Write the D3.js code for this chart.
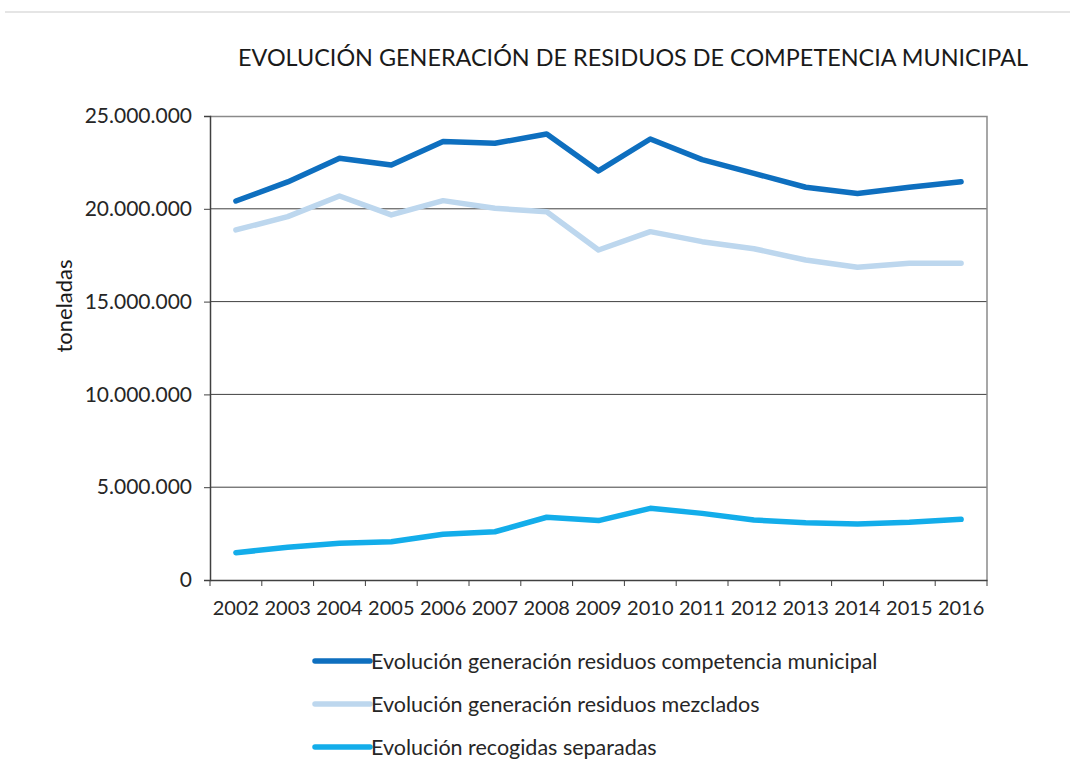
<!DOCTYPE html>
<html>
<head>
<meta charset="utf-8">
<script src="https://cdn.jsdelivr.net/npm/d3@7"></script>
<style>
  body { margin: 0; background: #fff; }
  svg text { font-family: Lato, "Open Sans", sans-serif; fill: #262626; }
</style>
</head>
<body>
<div id="chart"></div>
<script>
// Years on the x axis
const years = ["2002","2003","2004","2005","2006","2007","2008","2009","2010","2011","2012","2013","2014","2015","2016"];

// Series values (toneladas)
const municipal = [20420000, 21450000, 22720000, 22360000, 23620000, 23530000, 24030000, 22040000, 23760000, 22650000, 21910000, 21160000, 20830000, 21160000, 21460000];
const mezclados = [18860000, 19580000, 20690000, 19670000, 20440000, 20030000, 19840000, 17780000, 18770000, 18230000, 17850000, 17240000, 16850000, 17060000, 17060000];
const separadas = [1470000, 1760000, 1980000, 2060000, 2460000, 2600000, 3380000, 3200000, 3860000, 3590000, 3230000, 3090000, 3020000, 3110000, 3270000];

const seriesNames = [
    "Evolución generación residuos competencia municipal",
    "Evolución generación residuos mezclados",
    "Evolución recogidas separadas"
];
const seriesColors = ["#0e6fbf", "#bdd7ee", "#13adea"];
const yTicks = [0, 5000000, 10000000, 15000000, 20000000, 25000000];

const width = 1070, height = 764;
const margin = { top: 116, right: 83, bottom: 184, left: 210 };
const plotW = width - margin.left - margin.right;
const plotH = height - margin.top - margin.bottom;

const svg = d3.select("#chart").append("svg")
    .attr("width", width)
    .attr("height", height);

// thin rule at the top of the page
svg.append("line")
    .attr("x1", 5).attr("x2", width).attr("y1", 12).attr("y2", 12)
    .attr("stroke", "#dcdcdc").attr("stroke-width", 1.5);

// Title
svg.append("text")
    .attr("x", 238).attr("y", 66)
    .attr("textLength", 790)
    .attr("lengthAdjust", "spacingAndGlyphs")
    .style("font-size", "23px")
    .style("fill", "#1a1a1a")
    .text("EVOLUCIÓN GENERACIÓN DE RESIDUOS DE COMPETENCIA MUNICIPAL");

const g = svg.append("g").attr("transform", `translate(${margin.left},${margin.top})`);

// Scales
const x = d3.scaleBand().domain(years).range([0, plotW]);
const y = d3.scaleLinear().domain([0, 25000000]).range([plotH, 0]);

const fmt = v => v === 0 ? "0" : d3.format(",")(v).replace(/,/g, ".");

// Gridlines
g.selectAll(".grid")
    .data(yTicks.filter(d => d > 0 && d < 25000000))
    .enter().append("line")
    .attr("x1", 0).attr("x2", plotW)
    .attr("y1", d => y(d)).attr("y2", d => y(d))
    .attr("stroke", "#404040").attr("stroke-width", 1);

// Plot border top/right
g.append("path")
    .attr("d", `M0,0.5H${plotW}V${plotH}`)
    .attr("fill", "none").attr("stroke", "#8a8a8a").attr("stroke-width", 1.5);

// Y axis
const yAxis = g.append("g")
    .call(d3.axisLeft(y).tickValues(yTicks).tickFormat(fmt).tickSize(6).tickPadding(12));
yAxis.select(".domain").attr("stroke", "#404040").attr("stroke-width", 1.5);
yAxis.selectAll(".tick line").attr("stroke", "#404040");
yAxis.selectAll("text").style("font-size", "21px").style("fill", "#262626")
    .attr("font-family", null);

// X axis (ticks at category boundaries)
const xAxis = g.append("g").attr("transform", `translate(0,${plotH})`)
    .call(d3.axisBottom(x).tickSize(0).tickPadding(21));
xAxis.select(".domain").attr("stroke", "#404040").attr("stroke-width", 1.5);
xAxis.selectAll("text").style("font-size", "20px").style("fill", "#262626")
    .attr("font-family", null);
xAxis.selectAll(".bound")
    .data(d3.range(years.length + 1))
    .enter().append("line")
    .attr("x1", i => i * x.step()).attr("x2", i => i * x.step())
    .attr("y1", 0).attr("y2", 6)
    .attr("stroke", "#404040");

// Y axis title
svg.append("text")
    .attr("transform", "translate(72,306) rotate(-90)")
    .attr("text-anchor", "middle")
    .style("font-size", "22px")
    .style("fill", "#1a1a1a")
    .text("toneladas");

// Lines
const line = d3.line()
    .x((d, i) => x(years[i]) + x.bandwidth() / 2)
    .y(d => y(d));

const allSeries = [municipal, mezclados, separadas];
g.selectAll(".series")
    .data(allSeries)
    .enter().append("path")
    .attr("fill", "none")
    .attr("stroke", (d, i) => seriesColors[i])
    .attr("stroke-width", 5.5)
    .attr("stroke-linejoin", "round")
    .attr("stroke-linecap", "round")
    .attr("d", line);

// Legend
const legend = svg.append("g");
const items = legend.selectAll("g")
    .data(seriesNames)
    .enter().append("g")
    .attr("transform", (d, i) => `translate(315,${661 + i * 43})`);
items.append("line")
    .attr("x1", 0).attr("x2", 55)
    .attr("stroke", (d, i) => seriesColors[i])
    .attr("stroke-width", 5.5)
    .attr("stroke-linecap", "round");
items.append("text")
    .attr("x", 56).attr("dy", "0.35em")
    .style("font-size", "21.5px")
    .style("fill", "#262626")
    .text(d => d);
</script>
</body>
</html>
